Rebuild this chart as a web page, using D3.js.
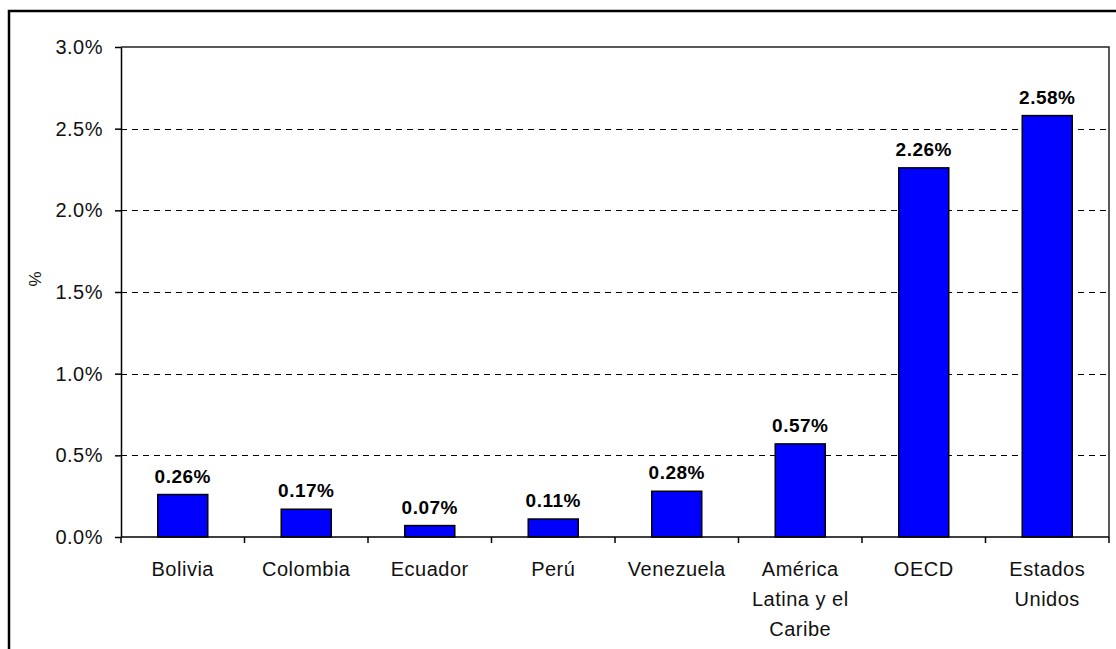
<!DOCTYPE html>
<html>
<head>
<meta charset="utf-8">
<script src="https://cdn.jsdelivr.net/npm/d3@7"></script>
<style>
  body { margin: 0; background: #fff; }
  svg { display: block; font-family: "Liberation Sans", Arial, sans-serif; }
</style>
</head>
<body>
<script>
// data
var categories = ["Bolivia", "Colombia", "Ecuador", "Perú", "Venezuela",
    "América\nLatina y el\nCaribe", "OECD", "Estados\nUnidos"];
var values = [0.26, 0.17, 0.07, 0.11, 0.28, 0.57, 2.26, 2.58];
var yTicks = [0, 0.5, 1.0, 1.5, 2.0, 2.5, 3.0];

var W = 1116, H = 649;
var plot = { left: 121, top: 47, right: 1109, bottom: 537 };

var svg = d3.select("body").append("svg")
    .attr("width", W)
    .attr("height", H);

// outer frame (runs off the right and bottom edge)
svg.append("rect")
    .attr("x", 9).attr("y", 11)
    .attr("width", W + 20).attr("height", H + 20)
    .attr("fill", "none")
    .attr("stroke", "#000")
    .attr("stroke-width", 2.5);

var xScale = d3.scaleBand()
    .domain(categories)
    .range([plot.left, plot.right])
    .paddingInner(0.595)
    .paddingOuter(0.2975);

var yScale = d3.scaleLinear()
    .domain([0, 3])
    .range([plot.bottom, plot.top]);

// dashed gridlines
svg.append("g").selectAll("line")
    .data(yTicks.filter(function (d) { return d > 0 && d < 3; }))
    .enter().append("line")
    .attr("x1", plot.left).attr("x2", plot.right)
    .attr("y1", function (d) { return Math.round(yScale(d)) + 0.5; })
    .attr("y2", function (d) { return Math.round(yScale(d)) + 0.5; })
    .attr("stroke", "#000")
    .attr("stroke-width", 1)
    .attr("shape-rendering", "crispEdges")
    .attr("stroke-dasharray", "6,5");

// plot area border (top and right)
svg.append("path")
    .attr("d", "M" + plot.left + "," + plot.top + "H" + plot.right + "V" + plot.bottom)
    .attr("fill", "none")
    .attr("stroke", "#222")
    .attr("stroke-width", 1.5);

// bars
svg.append("g").selectAll("rect")
    .data(values)
    .enter().append("rect")
    .attr("x", function (d, i) { return xScale(categories[i]); })
    .attr("y", function (d) { return yScale(d); })
    .attr("width", xScale.bandwidth())
    .attr("height", function (d) { return plot.bottom - yScale(d); })
    .attr("fill", "#0000ff")
    .attr("stroke", "#000")
    .attr("stroke-width", 1.5);

// value labels
svg.append("g").selectAll("text")
    .data(values)
    .enter().append("text")
    .attr("x", function (d, i) { return xScale(categories[i]) + xScale.bandwidth() / 2; })
    .attr("y", function (d) { return yScale(d) - 12; })
    .attr("text-anchor", "middle")
    .style("font-size", "19px")
    .style("font-weight", "bold")
    .style("letter-spacing", "0.5px")
    .style("fill", "#000")
    .text(function (d) { return d.toFixed(2) + "%"; });

// y axis
var yAxis = svg.append("g")
    .attr("transform", "translate(" + plot.left + ",0)")
    .call(d3.axisLeft(yScale)
        .tickValues(yTicks)
        .tickSize(6)
        .tickSizeOuter(0)
        .tickPadding(12)
        .tickFormat(function (d) { return d.toFixed(1) + "%"; }));
yAxis.selectAll("path, line").attr("stroke", "#000").attr("stroke-width", 1.5);
yAxis.selectAll("text")
    .style("font-size", "20px")
    .style("letter-spacing", "0.5px")
    .style("font-family", "'Liberation Sans', Arial, sans-serif")
    .style("fill", "#111");

// x axis line
svg.append("line")
    .attr("x1", plot.left).attr("x2", plot.right)
    .attr("y1", plot.bottom).attr("y2", plot.bottom)
    .attr("stroke", "#000")
    .attr("stroke-width", 1.5);

// x ticks at category boundaries
var step = xScale.step();
var bounds = d3.range(categories.length + 1).map(function (i) {
    return xScale(categories[0]) - (step - xScale.bandwidth()) / 2 + i * step;
});
svg.append("g").selectAll("line")
    .data(bounds)
    .enter().append("line")
    .attr("x1", function (d) { return d; }).attr("x2", function (d) { return d; })
    .attr("y1", plot.bottom).attr("y2", plot.bottom + 6)
    .attr("stroke", "#000")
    .attr("stroke-width", 1.5);

// x category labels (multi-line)
var xl = svg.append("g").selectAll("text")
    .data(categories)
    .enter().append("text")
    .attr("text-anchor", "middle")
    .attr("x", function (d) { return xScale(d) + xScale.bandwidth() / 2; })
    .attr("y", plot.bottom + 39)
    .style("font-size", "20px")
    .style("letter-spacing", "0.5px")
    .style("fill", "#111");
xl.selectAll("tspan")
    .data(function (d) { return d.split("\n"); })
    .enter().append("tspan")
    .attr("x", function () { return d3.select(this.parentNode).attr("x"); })
    .attr("dy", function (d, i) { return i === 0 ? 0 : 30; })
    .text(function (d) { return d; });

// y axis title
svg.append("text")
    .attr("transform", "translate(41,279) rotate(-90)")
    .attr("text-anchor", "middle")
    .style("font-size", "17px")
    .style("fill", "#111")
    .text("%");
</script>
</body>
</html>
